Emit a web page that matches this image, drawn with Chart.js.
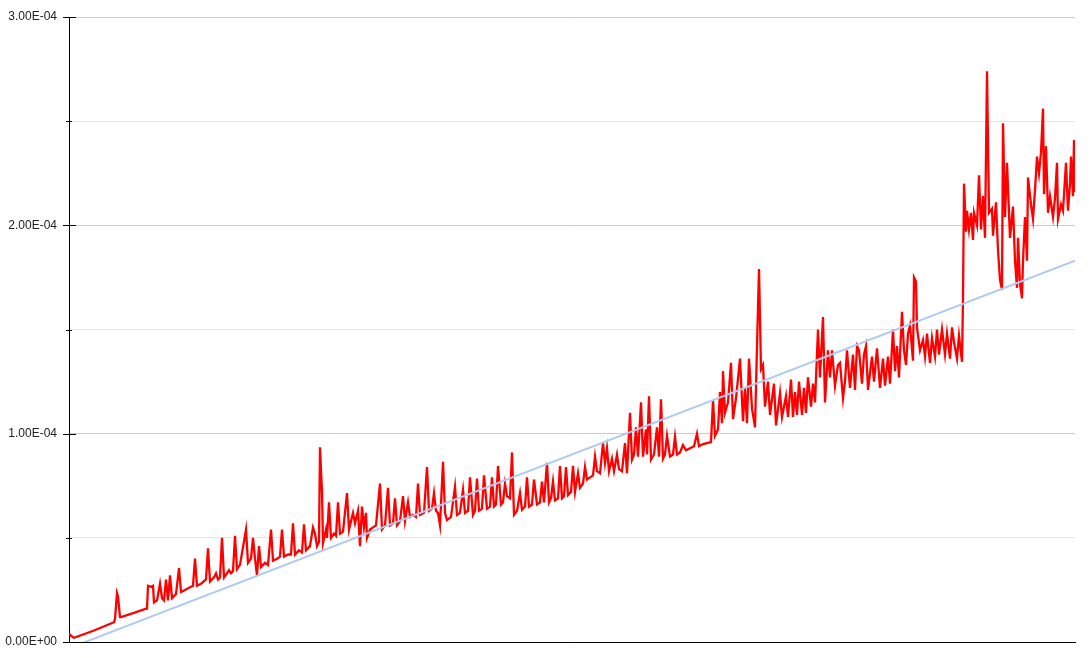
<!DOCTYPE html>
<html>
<head>
<meta charset="utf-8">
<script src="https://cdn.jsdelivr.net/npm/chart.js@4.4.1/dist/chart.umd.min.js"></script>
<style>
    body { margin: 0; background: #fff; }
    #wrap { width: 1089px; height: 658px; }
</style>
</head>
<body>
<div id="wrap"><canvas id="cost_chart"></canvas></div>
<script>
// y values are in units of 1E-04, x is the sample number
const samples = [
    [0, 0.04], [2, 0.03], [5, 0.02], [25, 0.055], [45, 0.095], [46, 0.11], [48, 0.235], [49, 0.22], [51, 0.12],
    [52, 0.12], [65, 0.14], [77, 0.16], [78, 0.16], [79, 0.27], [82, 0.265], [84, 0.27], [85, 0.19], [88, 0.2],
    [91, 0.28], [93, 0.21], [95, 0.2], [97, 0.3], [99, 0.2], [101, 0.32], [103, 0.21], [107, 0.23], [110, 0.355],
    [112, 0.24], [116, 0.25], [120, 0.26], [124, 0.27], [126, 0.40], [128, 0.27], [132, 0.28], [137, 0.3],
    [139, 0.45], [141, 0.29], [145, 0.31], [147, 0.33], [149, 0.3], [151, 0.31], [153, 0.50], [155, 0.31],
    [158, 0.33], [160, 0.345], [162, 0.33], [164, 0.34], [166, 0.51], [168, 0.35], [171, 0.37],
    [177, 0.54], [179, 0.38], [182, 0.40], [184, 0.50], [186, 0.40], [188, 0.32], [190, 0.46], [192, 0.36],
    [196, 0.38], [199, 0.37], [202, 0.54], [204, 0.39], [208, 0.4], [211, 0.41], [213, 0.54], [215, 0.41],
    [219, 0.42], [222, 0.42], [224, 0.57], [226, 0.42], [230, 0.44], [233, 0.43], [235, 0.565], [237, 0.44],
    [241, 0.46], [244, 0.55], [246, 0.52], [248, 0.46], [250, 0.48], [251, 0.935], [253, 0.72], [254, 0.475],
    [257, 0.54], [258, 0.5], [260, 0.67], [262, 0.5], [265, 0.52], [267, 0.51], [269, 0.67], [271, 0.52],
    [274, 0.53], [278, 0.715], [280, 0.54], [282, 0.58], [284, 0.62], [286, 0.57], [289, 0.63], [291, 0.46],
    [293, 0.65], [295, 0.55], [297, 0.62], [298, 0.5], [301, 0.54], [304, 0.55], [307, 0.56], [311, 0.76],
    [313, 0.54], [316, 0.56], [319, 0.74], [321, 0.56], [324, 0.57], [326, 0.69], [328, 0.56], [331, 0.58],
    [334, 0.70], [336, 0.58], [339, 0.67], [341, 0.6],
    [344, 0.61], [347, 0.6], [349, 0.76], [351, 0.61], [355, 0.62], [358, 0.84], [360, 0.63], [363, 0.64],
    [365, 0.715], [367, 0.63], [369, 0.62], [371, 0.56], [374, 0.865], [376, 0.62], [378, 0.585], [382, 0.6],
    [386, 0.745], [388, 0.61], [391, 0.62], [394, 0.73], [396, 0.62], [399, 0.63], [401, 0.79], [404, 0.61],
    [406, 0.63], [408, 0.785], [410, 0.63], [413, 0.64], [415, 0.80], [418, 0.64], [421, 0.65], [423, 0.79],
    [425, 0.65], [427, 0.66], [429, 0.845], [432, 0.66], [434, 0.67], [436, 0.76], [438, 0.70], [441, 0.69],
    [443, 0.91], [445, 0.61], [448, 0.63], [451, 0.715], [453, 0.635], [456, 0.65], [458, 0.79], [460, 0.65],
    [463, 0.66], [465, 0.78], [468, 0.66], [471, 0.67], [473, 0.77], [475, 0.67], [478, 0.86], [480, 0.67],
    [482, 0.69], [484, 0.77], [486, 0.68], [489, 0.69], [491, 0.845], [493, 0.69], [495, 0.70], [497, 0.84],
    [499, 0.705], [502, 0.72], [504, 0.845], [506, 0.72], [509, 0.81],
    [511, 0.74], [514, 0.76], [516, 0.84], [518, 0.78], [521, 0.79], [524, 0.8], [526, 0.89], [528, 0.82],
    [531, 0.81], [534, 0.955], [536, 0.86], [538, 0.93], [540, 0.82], [543, 0.88], [545, 0.82], [548, 0.9],
    [550, 0.83], [553, 0.82], [556, 0.955], [558, 0.81], [561, 1.10], [563, 0.875], [565, 0.9], [567, 1.03],
    [569, 0.89], [572, 1.15], [574, 0.89], [577, 1.02], [578, 0.9], [580, 1.18], [582, 0.875], [585, 0.9],
    [588, 1.03], [590, 0.89], [592, 1.165], [594, 0.88], [596, 0.9], [598, 0.99], [601, 0.89], [604, 0.9],
    [606, 0.985], [608, 0.9], [611, 0.91], [614, 0.945], [617, 0.92], [621, 0.93], [625, 0.94], [628, 1.0],
    [630, 0.94], [634, 0.95], [638, 0.955], [642, 0.96], [644, 1.16], [646, 0.99], [649, 1.02], [651, 1.20],
    [653, 1.05], [654, 1.30], [656, 1.10], [659, 1.15], [662, 1.34], [664, 1.07], [667, 1.17], [671, 1.36],
    [674, 1.06], [676, 1.22], [678, 1.05], [680, 1.36], [683, 1.12], [686, 1.03], [688, 1.42], [690, 1.79],
    [692, 1.31], [694, 1.33], [696, 1.13], [699, 1.25], [701, 1.09], [705, 1.24], [707, 1.04], [711, 1.195],
    [713, 1.08], [717, 1.18], [719, 1.08], [722, 1.26], [724, 1.08], [726, 1.20], [728, 1.09], [730, 1.25],
    [733, 1.09], [735, 1.22], [737, 1.10], [739, 1.27], [742, 1.13], [744, 1.24], [746, 1.15], [749, 1.50],
    [751, 1.27], [754, 1.56], [756, 1.15], [759, 1.40], [761, 1.27], [763, 1.40], [766, 1.23], [769, 1.33],
    [771, 1.34], [774, 1.17], [776, 1.25], [778, 1.40], [781, 1.22], [784, 1.38], [786, 1.21], [788, 1.42],
    [790, 1.40], [793, 1.24], [795, 1.38], [797, 1.42], [799, 1.21], [803, 1.37], [805, 1.25], [808, 1.41],
    [811, 1.22], [814, 1.36], [816, 1.23], [819, 1.37], [821, 1.24], [824, 1.50], [826, 1.30], [828, 1.42],
    [830, 1.27], [833, 1.585], [835, 1.40], [837, 1.33], [839, 1.48], [841, 1.52], [844, 1.35], [845, 1.75],
    [847, 1.73], [848, 1.51], [851, 1.40], [854, 1.45], [856, 1.37], [858, 1.48], [861, 1.34], [863, 1.46],
    [866, 1.37], [868, 1.50], [870, 1.38], [873, 1.50], [876, 1.38], [878, 1.48], [881, 1.36], [883, 1.51],
    [885, 1.44], [888, 1.36], [890, 1.47], [893, 1.345], [894, 1.65], [895, 2.20], [897, 1.97], [898, 2.07],
    [900, 1.98], [902, 2.06], [904, 1.93], [905, 2.06], [908, 2.00], [910, 2.24], [912, 1.98], [914, 2.14],
    [916, 1.94], [918, 2.74], [920, 2.06], [923, 2.08], [924, 1.95], [927, 2.11], [929, 1.88], [931, 1.74],
    [933, 1.69], [934, 2.49], [936, 2.04], [938, 2.30], [941, 1.94], [944, 2.09], [946, 1.83], [948, 1.70],
    [949, 1.94], [951, 1.72], [953, 1.65], [954, 1.83], [956, 2.04], [958, 1.83], [959, 2.23], [962, 2.10],
    [964, 2.03], [966, 2.17], [968, 2.33], [970, 2.25], [972, 2.35], [974, 2.56], [975, 2.15], [977, 2.38],
    [979, 2.06], [981, 2.14], [984, 2.04], [986, 2.13], [988, 2.30], [989, 2.03], [992, 2.10], [994, 2.07],
    [997, 2.30], [999, 2.07], [1001, 2.20], [1002, 2.33], [1004, 2.14], [1005, 2.41], [1006, 2.16]
];

// linear trend, start and end
const trend = [[0, -0.03], [1006, 1.83]];

const yTickLabels = ['0.00E+00', '', '1.00E-04', '', '2.00E-04', '', '3.00E-04'];

const toPoints = arr => arr.map(p => ({ x: p[0], y: p[1] * 1e-4 }));

// little tick marks crossing the y axis
const axisTicks = {
    id: 'axisTicks',
    afterDraw(chart) {
        const y = chart.scales.y;
        const left = chart.chartArea.left;
        const ctx = chart.ctx;
        ctx.save();
        ctx.strokeStyle = '#000';
        ctx.lineWidth = 1;
        y.ticks.forEach((t, i) => {
            const py = Math.round(y.getPixelForValue(t.value)) + 0.5;
            const big = i % 2 === 0;
            ctx.beginPath();
            ctx.moveTo(left - (big ? 6 : 3), py);
            ctx.lineTo(left + (big ? 7 : 3), py);
            ctx.stroke();
        });
        ctx.restore();
    }
};

let canvas = document.querySelector('#cost_chart');

let chart = new Chart(canvas, {
    type: 'line',
    data: {
        datasets: [{
            data: toPoints(samples),
            borderColor: '#ff0000',
            borderWidth: 2.3,
            pointRadius: 0,
            tension: 0,
            order: 2
        }, {
            data: toPoints(trend),
            borderColor: '#aecbf2',
            borderWidth: 2,
            pointRadius: 0,
            order: 1
        }]
    },
    options: {
        responsive: true,
        maintainAspectRatio: false,
        animation: false,
        layout: { padding: { top: 17, right: 14, bottom: 0, left: 0 } },
        plugins: {
            legend: { display: false },
            tooltip: { enabled: false }
        },
        scales: {
            x: {
                type: 'linear',
                min: 0,
                max: 1006,
                ticks: { display: false },
                grid: { display: false },
                border: { color: '#000', width: 1 },
                afterFit: s => { s.height = 16; }
            },
            y: {
                min: 0,
                max: 3e-4,
                ticks: {
                    stepSize: 5e-5,
                    padding: 12,
                    color: '#222',
                    font: { family: 'Liberation Sans, Arial', size: 12 },
                    callback: (v, i) => yTickLabels[i]
                },
                grid: {
                    drawTicks: false,
                    color: c => (c.index % 2 === 0 ? '#cccccc' : '#e6e6e6')
                },
                border: { color: '#000', width: 1 },
                afterFit: s => {
                    s.width = 69;
                    s.paddingTop = 0;
                    s.paddingBottom = 0;
                }
            }
        }
    },
    plugins: [axisTicks]
});
</script>
</body>
</html>
